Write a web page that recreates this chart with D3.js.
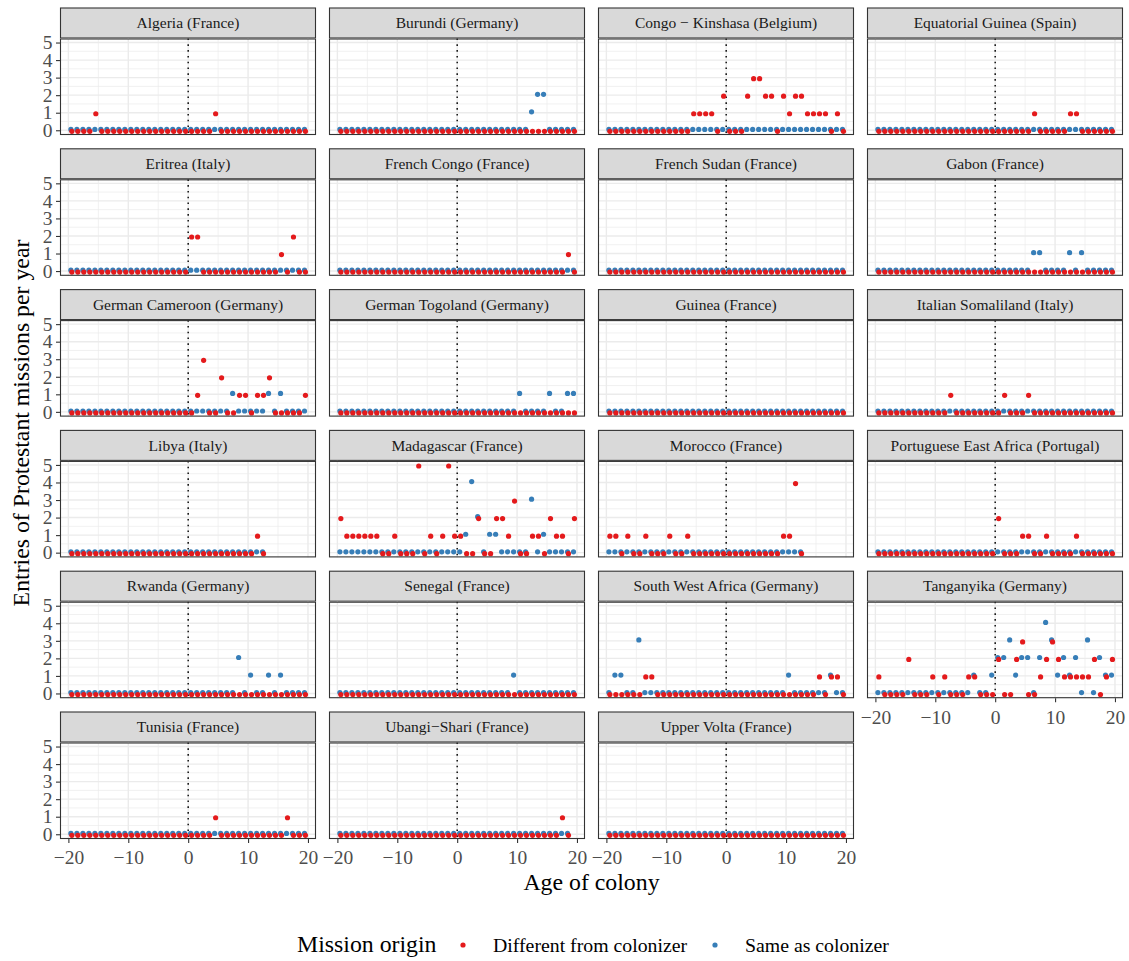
<!DOCTYPE html>
<html>
<head>
<meta charset="utf-8">
<script src="https://cdn.jsdelivr.net/npm/d3@7"></script>
<style>
  body { margin: 0; background: #fff; }
  svg text { font-family: "Liberation Serif", "DejaVu Serif", serif; }
</style>
</head>
<body>
<div class="chart"></div>
<script>
// -----------------------------------------------------------------------
// Data
// -----------------------------------------------------------------------

// facet titles, in the order the panels are laid out (4 per row)
const COLONIES = [
  "Algeria (France)", "Burundi (Germany)", "Congo \u2212 Kinshasa (Belgium)", "Equatorial Guinea (Spain)",
  "Eritrea (Italy)", "French Congo (France)", "French Sudan (France)", "Gabon (France)",
  "German Cameroon (Germany)", "German Togoland (Germany)", "Guinea (France)", "Italian Somaliland (Italy)",
  "Libya (Italy)", "Madagascar (France)", "Morocco (France)", "Portuguese East Africa (Portugal)",
  "Rwanda (Germany)", "Senegal (France)", "South West Africa (Germany)", "Tanganyika (Germany)",
  "Tunisia (France)", "Ubangi\u2212Shari (France)", "Upper Volta (France)"
];

// age of colony, one entry per value in the series below
const YEARS = [-20, -19, -18, -17, -16, -15, -14, -13, -12, -11, -10, -9, -8, -7, -6, -5, -4, -3, -2, -1,
  0, 1, 2, 3, 4, 5, 6, 7, 8, 9, 10, 11, 12, 13, 14, 15, 16, 17, 18, 19];

// entries per year, mission origin different from colonizer (same order as COLONIES)
const differentFromColonizer = [
  [0,0,0,0,1,0,0,0,0,0, 0,0,0,0,0,0,0,0,0,0, 0,0,0,0,1,0,0,0,0,0, 0,0,0,0,0,0,0,0,0,0],
  [0,0,0,0,0,0,0,0,0,0, 0,0,0,0,0,0,0,0,0,0, 0,0,0,0,0,0,0,0,0,0, 0,0,0,0,0,0,0,0,0,0],
  [0,0,0,0,0,0,0,0,0,0, 0,0,0,0,1,1,1,1,0,2, 0,0,0,2,3,3,2,2,0,2, 1,2,2,1,1,1,1,0,1,0],
  [0,0,0,0,0,0,0,0,0,0, 0,0,0,0,0,0,0,0,0,0, 0,0,0,0,0,0,1,0,0,0, 0,0,1,1,0,0,0,0,0,0],
  [0,0,0,0,0,0,0,0,0,0, 0,0,0,0,0,0,0,0,0,0, 2,2,0,0,0,0,0,0,0,0, 0,0,0,0,0,1,0,2,0,0],
  [0,0,0,0,0,0,0,0,0,0, 0,0,0,0,0,0,0,0,0,0, 0,0,0,0,0,0,0,0,0,0, 0,0,0,0,0,0,0,0,1,0],
  [0,0,0,0,0,0,0,0,0,0, 0,0,0,0,0,0,0,0,0,0, 0,0,0,0,0,0,0,0,0,0, 0,0,0,0,0,0,0,0,0,0],
  [0,0,0,0,0,0,0,0,0,0, 0,0,0,0,0,0,0,0,0,0, 0,0,0,0,0,0,0,0,0,0, 0,0,0,0,0,0,0,0,0,0],
  [0,0,0,0,0,0,0,0,0,0, 0,0,0,0,0,0,0,0,0,0, 0,1,3,0,0,2,0,0,1,1, 0,1,1,2,0,0,0,0,0,1],
  [0,0,0,0,0,0,0,0,0,0, 0,0,0,0,0,0,0,0,0,0, 0,0,0,0,0,0,0,0,0,0, 0,0,0,0,0,0,0,0,0,0],
  [0,0,0,0,0,0,0,0,0,0, 0,0,0,0,0,0,0,0,0,0, 0,0,0,0,0,0,0,0,0,0, 0,0,0,0,0,0,0,0,0,0],
  [0,0,0,0,0,0,0,0,0,0, 0,0,1,0,0,0,0,0,0,0, 0,1,0,0,0,1,0,0,0,0, 0,0,0,0,0,0,0,0,0,0],
  [0,0,0,0,0,0,0,0,0,0, 0,0,0,0,0,0,0,0,0,0, 0,0,0,0,0,0,0,0,0,0, 0,1,0],
  [2,1,1,1,1,1,1,0,0,1, 0,0,0,5,0,1,0,1,5,1, 1,0,0,2,0,0,2,2,1,3, 0,0,1,1,0,2,1,1,0,2],
  [1,1,0,1,0,0,1,0,0,0, 1,0,0,1,0,0,0,0,0,0, 0,0,0,0,0,0,0,0,0,1, 1,4,0],
  [0,0,0,0,0,0,0,0,0,0, 0,0,0,0,0,0,0,0,0,0, 2,0,0,0,1,1,0,0,1,0, 0,0,0,1,0,0,0,0,0,0],
  [0,0,0,0,0,0,0,0,0,0, 0,0,0,0,0,0,0,0,0,0, 0,0,0,0,0,0,0,0,0,0, 0,0,0,0,0,0,0,0,0,0],
  [0,0,0,0,0,0,0,0,0,0, 0,0,0,0,0,0,0,0,0,0, 0,0,0,0,0,0,0,0,0,0, 0,0,0,0,0,0,0,0,0,0],
  [0,0,0,0,0,0,1,1,0,0, 0,0,0,0,0,0,0,0,0,0, 0,0,0,0,0,0,0,0,0,0, 0,0,0,0,0,1,0,1,1,0],
  [1,0,0,0,0,2,0,0,0,1, 0,1,0,0,0,1,1,0,0,0, 2,0,0,2,3,0,0,1,2,3, 2,1,1,1,1,1,2,0,1,2],
  [0,0,0,0,0,0,0,0,0,0, 0,0,0,0,0,0,0,0,0,0, 0,0,0,0,1,0,0,0,0,0, 0,0,0,0,0,0,1,0,0,0],
  [0,0,0,0,0,0,0,0,0,0, 0,0,0,0,0,0,0,0,0,0, 0,0,0,0,0,0,0,0,0,0, 0,0,0,0,0,0,0,1,0],
  [0,0,0,0,0,0,0,0,0,0, 0,0,0,0,0,0,0,0,0,0, 0,0,0,0,0,0,0,0,0,0, 0,0,0,0,0,0,0,0,0,0]
];

// entries per year, mission origin same as colonizer
const sameAsColonizer = [
  [0,0,0,0,0,0,0,0,0,0, 0,0,0,0,0,0,0,0,0,0, 0,0,0,0,0,0,0,0,0,0, 0,0,0,0,0,0,0,0,0,0],
  [0,0,0,0,0,0,0,0,0,0, 0,0,0,0,0,0,0,0,0,0, 0,0,0,0,0,0,0,0,0,0, 0,0,1,2,2,0,0,0,0,0],
  [0,0,0,0,0,0,0,0,0,0, 0,0,0,0,0,0,0,0,0,0, 0,0,0,0,0,0,0,0,0,0, 0,0,0,0,0,0,0,0,0,0],
  [0,0,0,0,0,0,0,0,0,0, 0,0,0,0,0,0,0,0,0,0, 0,0,0,0,0,0,0,0,0,0, 0,0,0,0,0,0,0,0,0,0],
  [0,0,0,0,0,0,0,0,0,0, 0,0,0,0,0,0,0,0,0,0, 0,0,0,0,0,0,0,0,0,0, 0,0,0,0,0,0,0,0,0,0],
  [0,0,0,0,0,0,0,0,0,0, 0,0,0,0,0,0,0,0,0,0, 0,0,0,0,0,0,0,0,0,0, 0,0,0,0,0,0,0,0,0,0],
  [0,0,0,0,0,0,0,0,0,0, 0,0,0,0,0,0,0,0,0,0, 0,0,0,0,0,0,0,0,0,0, 0,0,0,0,0,0,0,0,0,0],
  [0,0,0,0,0,0,0,0,0,0, 0,0,0,0,0,0,0,0,0,0, 0,0,0,0,0,0,1,1,0,0, 0,0,1,0,1,0,0,0,0,0],
  [0,0,0,0,0,0,0,0,0,0, 0,0,0,0,0,0,0,0,0,0, 0,0,0,0,0,0,0,1,0,0, 0,0,0,1,0,1,0,0,0,0],
  [0,0,0,0,0,0,0,0,0,0, 0,0,0,0,0,0,0,0,0,0, 0,0,0,0,0,0,0,0,0,0, 1,0,0,0,0,1,0,0,1,1],
  [0,0,0,0,0,0,0,0,0,0, 0,0,0,0,0,0,0,0,0,0, 0,0,0,0,0,0,0,0,0,0, 0,0,0,0,0,0,0,0,0,0],
  [0,0,0,0,0,0,0,0,0,0, 0,0,0,0,0,0,0,0,0,0, 0,0,0,0,0,0,0,0,0,0, 0,0,0,0,0,0,0,0,0,0],
  [0,0,0,0,0,0,0,0,0,0, 0,0,0,0,0,0,0,0,0,0, 0,0,0,0,0,0,0,0,0,0, 0,0,0],
  [0,0,0,0,0,0,0,0,0,0, 0,0,0,0,0,0,0,0,0,0, 0,1,4,2,0,1,1,0,0,0, 0,0,3,0,1,0,0,0,0,0],
  [0,0,0,0,0,0,0,0,0,0, 0,0,0,0,0,0,0,0,0,0, 0,0,0,0,0,0,0,0,0,0, 0,0,0],
  [0,0,0,0,0,0,0,0,0,0, 0,0,0,0,0,0,0,0,0,0, 0,0,0,0,0,0,0,0,0,0, 0,0,0,0,0,0,0,0,0,0],
  [0,0,0,0,0,0,0,0,0,0, 0,0,0,0,0,0,0,0,0,0, 0,0,0,0,0,0,0,0,2,0, 1,0,0,1,0,1,0,0,0,0],
  [0,0,0,0,0,0,0,0,0,0, 0,0,0,0,0,0,0,0,0,0, 0,0,0,0,0,0,0,0,0,1, 0,0,0,0,0,0,0,0,0,0],
  [0,1,1,0,0,3,0,0,0,0, 0,0,0,0,0,0,0,0,0,0, 0,0,0,0,0,0,0,0,0,0, 1,0,0,0,0,0,0,1,0,0],
  [0,0,0,0,0,0,0,0,0,0, 0,0,0,0,0,0,1,0,0,1, 2,2,3,1,2,2,0,2,4,3, 1,2,1,2,0,3,0,2,1,1],
  [0,0,0,0,0,0,0,0,0,0, 0,0,0,0,0,0,0,0,0,0, 0,0,0,0,0,0,0,0,0,0, 0,0,0,0,0,0,0,0,0,0],
  [0,0,0,0,0,0,0,0,0,0, 0,0,0,0,0,0,0,0,0,0, 0,0,0,0,0,0,0,0,0,0, 0,0,0,0,0,0,0,0,0],
  [0,0,0,0,0,0,0,0,0,0, 0,0,0,0,0,0,0,0,0,0, 0,0,0,0,0,0,0,0,0,0, 0,0,0,0,0,0,0,0,0,0]
];

const ORIGINS = ["Different from colonizer", "Same as colonizer"];
const X_TICKS = [-20, -10, 0, 10, 20];
const X_MINOR = [-15, -5, 5, 15];
const Y_TICKS = [0, 1, 2, 3, 4, 5];
const Y_MINOR = [0.5, 1.5, 2.5, 3.5, 4.5];

// -----------------------------------------------------------------------
// Layout
// -----------------------------------------------------------------------

const WIDTH = 1129;
const HEIGHT = 961;
const N_COLS = 4;
const PANEL_LEFT = 60;
const PANEL_W = 256;
const COL_STEP = 269;
const STRIP_TOP = 7.5;
const STRIP_H = 31;
const PLOT_H = 96.5;
const ROW_STEP = 140.8;

const X_DOMAIN = [-21.4, 21.34];
const Y_DOMAIN = [-0.27, 5.23];

// the two series are dodged a little so they don't sit on top of each other
const DODGE = { "Different from colonizer": [0.58, -0.06], "Same as colonizer": [0.42, 0.05] };
const POINT_R = 2.6;
const TICK_FONT = 19.5;
const TITLE_FONT = 23.8;
const LEGEND_FONT = 19.8;
const STRIP_FONT = 15.5;

let xScale, yScale, colorScale;

const svg = d3.select(".chart")
  .append("svg")
  .attr("width", WIDTH)
  .attr("height", HEIGHT);

xScale = d3.scaleLinear().domain(X_DOMAIN).range([0, PANEL_W]);
yScale = d3.scaleLinear().domain(Y_DOMAIN).range([PLOT_H, 0]);
colorScale = d3.scaleOrdinal().domain(ORIGINS).range(["#E41A1C", "#377EB8"]);

// -----------------------------------------------------------------------
// Panels
// -----------------------------------------------------------------------

function drawPanel(name, i) {
  const g = d3.select(this);

  // strip on top
  g.append("rect")
    .attr("x", 0.5).attr("y", 0.5)
    .attr("width", PANEL_W - 1).attr("height", STRIP_H - 1)
    .attr("fill", "#D9D9D9")
    .attr("stroke", "#333333")
    .attr("stroke-width", 1.1);
  g.append("text")
    .attr("x", PANEL_W / 2)
    .attr("y", STRIP_H / 2 + 5.3)
    .attr("text-anchor", "middle")
    .attr("font-size", STRIP_FONT)
    .attr("fill", "#1A1A1A")
    .text(name);

  const plot = g.append("g").attr("transform", `translate(0, ${STRIP_H})`);
  plot.append("rect").attr("width", PANEL_W).attr("height", PLOT_H).attr("fill", "#fff");

  // grid
  plot.append("g").selectAll("line").data(X_MINOR).join("line")
    .attr("x1", d => xScale(d)).attr("x2", d => xScale(d))
    .attr("y1", 0).attr("y2", PLOT_H)
    .attr("stroke", "#EBEBEB").attr("stroke-width", 0.7);
  plot.append("g").selectAll("line").data(Y_MINOR).join("line")
    .attr("x1", 0).attr("x2", PANEL_W)
    .attr("y1", d => yScale(d)).attr("y2", d => yScale(d))
    .attr("stroke", "#EBEBEB").attr("stroke-width", 0.7);
  plot.append("g").selectAll("line").data(X_TICKS).join("line")
    .attr("x1", d => xScale(d)).attr("x2", d => xScale(d))
    .attr("y1", 0).attr("y2", PLOT_H)
    .attr("stroke", "#EBEBEB").attr("stroke-width", 1.4);
  plot.append("g").selectAll("line").data(Y_TICKS).join("line")
    .attr("x1", 0).attr("x2", PANEL_W)
    .attr("y1", d => yScale(d)).attr("y2", d => yScale(d))
    .attr("stroke", "#EBEBEB").attr("stroke-width", 1.4);

  // colony start
  plot.append("line")
    .attr("x1", xScale(0)).attr("x2", xScale(0))
    .attr("y1", 0).attr("y2", PLOT_H)
    .attr("stroke", "#000")
    .attr("stroke-width", 1.4)
    .attr("stroke-dasharray", "1.6,4.2");

  // points: same-as-colonizer first, different-from-colonizer drawn over it
  const series = [
    { origin: ORIGINS[1], values: sameAsColonizer[i] },
    { origin: ORIGINS[0], values: differentFromColonizer[i] }
  ];
  series.forEach(s => {
    const [dx, dy] = DODGE[s.origin];
    plot.append("g")
      .selectAll("circle")
      .data(s.values)
      .join("circle")
      .attr("cx", (v, j) => xScale(YEARS[j] + dx))
      .attr("cy", v => yScale(v + dy))
      .attr("r", POINT_R)
      .attr("fill", colorScale(s.origin));
  });

  plot.append("rect")
    .attr("x", 0.5).attr("y", 0.5)
    .attr("width", PANEL_W - 1).attr("height", PLOT_H - 1)
    .attr("fill", "none")
    .attr("stroke", "#333333")
    .attr("stroke-width", 1.1);

  // axes only on the outer panels
  if (i % N_COLS === 0) {
    plot.append("g")
      .call(d3.axisLeft(yScale).tickValues(Y_TICKS).tickFormat(d3.format("d")).tickSize(4).tickPadding(3.5))
      .call(styleAxis);
  }
  if (i + N_COLS >= COLONIES.length) {
    plot.append("g")
      .attr("transform", `translate(0, ${PLOT_H})`)
      .call(d3.axisBottom(xScale).tickValues(X_TICKS).tickFormat(d3.format("d")).tickSize(4).tickPadding(7.5))
      .call(styleAxis);
  }
}

function styleAxis(axis) {
  axis.select(".domain").remove();
  axis.attr("font-size", TICK_FONT).attr("font-family", null);
  axis.selectAll(".tick line").attr("stroke", "#333333").attr("stroke-width", 1.1);
  axis.selectAll(".tick text").attr("fill", "#4D4D4D");
}

svg.selectAll(".panel")
  .data(COLONIES)
  .join("g")
  .attr("class", "panel")
  .attr("transform", (d, i) =>
    `translate(${PANEL_LEFT + (i % N_COLS) * COL_STEP}, ${STRIP_TOP + Math.floor(i / N_COLS) * ROW_STEP})`)
  .each(drawPanel);

// -----------------------------------------------------------------------
// Titles and legend
// -----------------------------------------------------------------------

svg.append("text")
  .attr("x", PANEL_LEFT + (3 * COL_STEP + PANEL_W) / 2)
  .attr("y", 890)
  .attr("text-anchor", "middle")
  .attr("font-size", TITLE_FONT)
  .attr("fill", "#000")
  .text("Age of colony");

svg.append("text")
  .attr("transform", `translate(29, 423) rotate(-90)`)
  .attr("text-anchor", "middle")
  .attr("font-size", TITLE_FONT)
  .attr("fill", "#000")
  .text("Entries of Protestant missions per year");

const legend = svg.append("g").attr("class", "legend");
legend.append("text")
  .attr("x", 297).attr("y", 952)
  .attr("font-size", TITLE_FONT)
  .text("Mission origin");

const legendItems = legend.selectAll(".item")
  .data(ORIGINS)
  .join("g")
  .attr("class", "item")
  .attr("transform", (d, i) => `translate(${[463, 715][i]}, 945)`);
legendItems.append("circle")
  .attr("r", POINT_R)
  .attr("fill", d => colorScale(d));
legendItems.append("text")
  .attr("x", 30).attr("y", 6.5)
  .attr("font-size", LEGEND_FONT)
  .text(d => d);
</script>
</body>
</html>
